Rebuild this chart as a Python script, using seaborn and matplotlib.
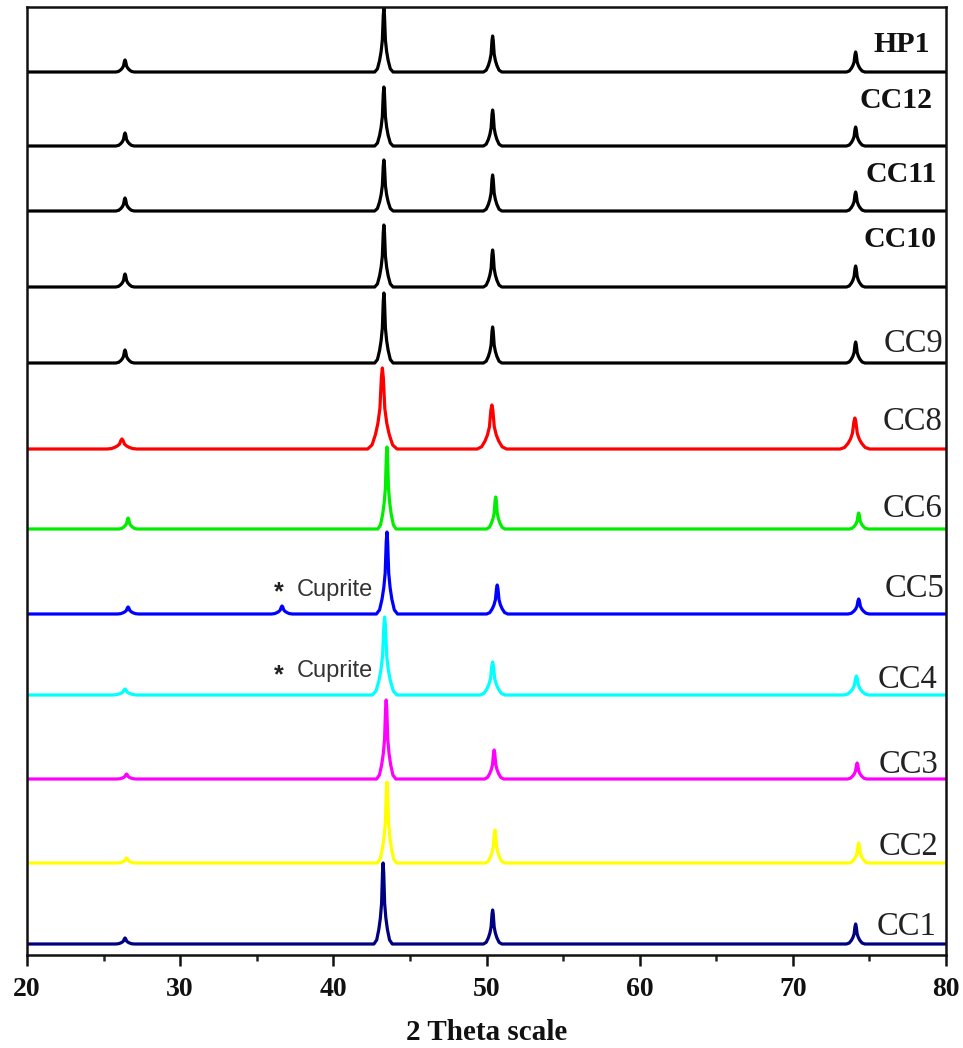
import numpy as np
import pandas as pd
import matplotlib
matplotlib.use("Agg")
import matplotlib.pyplot as plt
import seaborn as sns

# ==========================================
# DATA
# ==========================================
samples = ['HP1', 'CC12', 'CC11', 'CC10', 'CC9', 'CC8', 'CC6', 'CC5', 'CC4', 'CC3', 'CC2', 'CC1']
colors = ['black', 'black', 'black', 'black', 'black', '#ff0000', '#00ee00',
          '#0000ff', '#00ffff', '#ff00ff', '#ffff00', '#000080']

# vertical offset of each pattern (baseline)
offsets = [883, 809, 744, 668, 592, 506, 426, 341, 260, 176, 92, 11]

# peak positions (2 theta) and heights for each pattern
peak_pos = {
    'HP1':  [26.4, 43.3, 50.4, 74.1],
    'CC12': [26.4, 43.3, 50.4, 74.1],
    'CC11': [26.4, 43.3, 50.4, 74.1],
    'CC10': [26.4, 43.3, 50.4, 74.1],
    'CC9':  [26.4, 43.3, 50.4, 74.1],
    'CC8':  [26.2, 43.2, 50.35, 74.05],
    'CC6':  [26.6, 43.5, 50.6, 74.3],
    'CC5':  [26.6, 36.65, 43.5, 50.7, 74.3],
    'CC4':  [26.4, 43.35, 50.4, 74.15],
    'CC3':  [26.5, 43.45, 50.5, 74.2],
    'CC2':  [26.5, 43.5, 50.55, 74.3],
    'CC1':  [26.4, 43.25, 50.4, 74.1],
}
peak_h = {
    'HP1':  [12, 64, 36, 20],
    'CC12': [13, 59, 36, 19],
    'CC11': [13, 51, 36, 19],
    'CC10': [13, 62, 37, 21],
    'CC9':  [13, 70, 36, 21],
    'CC8':  [10, 81, 44, 31],
    'CC6':  [11, 82, 32, 16],
    'CC5':  [7, 8, 82, 29, 15],
    'CC4':  [6, 78, 33, 19],
    'CC3':  [5, 79, 29, 16],
    'CC2':  [5, 81, 33, 20],
    'CC1':  [6, 81, 34, 20],
}
peak_w = [1.0, 1.0, 1.0, 1.0, 1.0, 1.6, 1.0, 1.15, 1.35, 1.05, 1.05, 1.0]

# peak outline (offset in degrees, fraction of height)
shape_dx = [-0.6, -0.42, -0.28, -0.18, -0.1, -0.04, 0.0, 0.04, 0.1, 0.18, 0.28, 0.42, 0.6]
shape_f = [0.0, 0.05, 0.18, 0.32, 0.5, 0.88, 1.0, 0.88, 0.5, 0.32, 0.18, 0.05, 0.0]

bold_labels = ['HP1', 'CC12', 'CC11', 'CC10']

# ==========================================
# BUILD TABLE
# ==========================================
rows = []
for s, off, w in zip(samples, offsets, peak_w):
    xs = [20.0]
    ys = [off]
    for p, h in zip(peak_pos[s], peak_h[s]):
        for dx, f in zip(shape_dx, shape_f):
            xs.append(p + dx * w)
            ys.append(off + f * h)
    xs.append(80.0)
    ys.append(off)
    for x, y in zip(xs, ys):
        rows.append({'sample': s, 'two_theta': x, 'intensity': y})
df = pd.DataFrame(rows)

# ==========================================
# PLOT
# ==========================================
sns.set_theme(style="ticks")
plt.rcParams['font.family'] = ['Liberation Serif', 'DejaVu Serif']

fig = plt.figure(figsize=(9.63, 10.48), dpi=100)
ax = fig.add_axes([27 / 963, 1 - 955 / 1048, 919 / 963, 948 / 1048])

sns.lineplot(data=df, x='two_theta', y='intensity', hue='sample',
             palette=dict(zip(samples, colors)), estimator=None, sort=False,
             units='sample', legend=False, linewidth=2.3, ax=ax)

ax.set_xlim(20, 80)
ax.set_ylim(0, 948)
ax.set_yticks([])
ax.set_ylabel('')
ax.set_xticks(np.arange(20, 81, 10))
ax.set_xticks(np.arange(25, 80, 10), minor=True)
ax.tick_params(axis='x', which='major', direction='out', length=8, width=1.8,
               pad=8, labelsize=20, colors='#111111')
ax.tick_params(axis='x', which='minor', direction='out', length=4, width=1.8)
for t in ax.get_xticklabels():
    t.set_fontweight('bold')
for sp in ax.spines.values():
    sp.set_linewidth(1.8)
    sp.set_color('#111111')
    sp.set_visible(True)

ax.set_xlabel('2 Theta scale', fontsize=21, fontweight='bold', labelpad=12,
              color='#111111')

# sample labels
label_x = [78.95, 79.15, 79.41, 79.41, 79.8, 79.8, 79.8, 79.9, 79.41, 79.47, 79.47, 79.41]
label_y = [903, 847, 773, 708, 603, 525, 438, 358, 267, 182, 100, 20]
for s, lx, ly in zip(samples, label_x, label_y):
    if s in bold_labels:
        ax.text(lx, ly, s, ha='right', va='baseline', fontsize=21.5,
                fontweight='bold', color='#111111')
    else:
        ax.text(lx, ly, s, ha='right', va='baseline', fontsize=23.5,
                color='#222222')

# cuprite notes
for cy, sy in [(359, 356), (278, 273)]:
    ax.text(37.63, cy, 'Cuprite', ha='left', va='baseline', fontsize=17,
            family=['Liberation Sans', 'DejaVu Sans'], color='#333333')
    ax.text(36.45, sy, '*', ha='center', va='baseline', fontsize=18,
            family=['Liberation Sans', 'DejaVu Sans'], color='#222222',
            fontweight='bold')

fig.savefig('out.png', dpi=100)
